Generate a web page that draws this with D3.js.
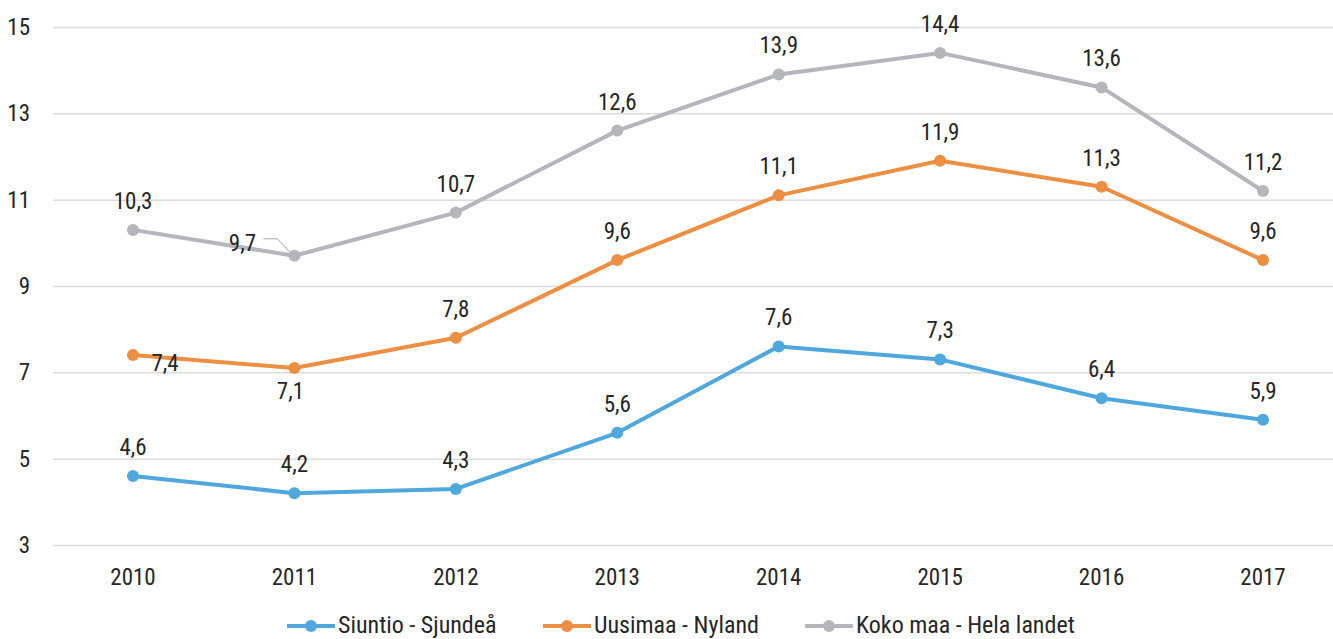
<!DOCTYPE html>
<html>
<head>
<meta charset="utf-8">
<script src="https://cdn.jsdelivr.net/npm/d3@7"></script>
<style>
  body { margin: 0; background: #fff; }
  svg { display: block; font-family: "Liberation Sans Narrow", "Roboto Condensed", "Roboto", sans-serif; }
</style>
</head>
<body>
<svg id="chart" width="1333" height="639"></svg>
<script>
'use strict';

/* chart data */
const years = [2010, 2011, 2012, 2013, 2014, 2015, 2016, 2017];
const siuntio = [4.6, 4.2, 4.3, 5.6, 7.6, 7.3, 6.4, 5.9];
const uusimaa = [7.4, 7.1, 7.8, 9.6, 11.1, 11.9, 11.3, 9.6];
const kokoMaa = [10.3, 9.7, 10.7, 12.6, 13.9, 14.4, 13.6, 11.2];
const yTicks = [3, 5, 7, 9, 11, 13, 15];
const seriesNames = ['Siuntio - Sjundeå', 'Uusimaa - Nyland', 'Koko maa - Hela landet'];

/* where each data label sits relative to its point */
const labelSpots = [
  ['above', 'above', 'above', 'above', 'above', 'above', 'above', 'above'],
  ['right', 'below', 'above', 'above', 'above', 'above', 'above', 'above'],
  ['above', 'leftLeader', 'above', 'above', 'above', 'above', 'above', 'above']
];

const colors = ['#4ea7dd', '#ec8f43', '#b5b6bb'];
const series = [siuntio, uusimaa, kokoMaa];

const svg = d3.select('#chart');
const fmt = v => d3.format('.1f')(v).replace('.', ',');
const textColor = '#262626';

const x = d3.scalePoint().domain(years).range([133, 1263]);
const y = d3.scaleLinear().domain([3, 15]).range([545, 27]);

/* gridlines */
svg.append('g')
  .attr('transform', 'translate(53,0)')
  .call(d3.axisLeft(y).tickValues(yTicks).tickSize(-1290).tickFormat(''))
  .call(g => g.select('.domain').remove())
  .call(g => g.selectAll('line').attr('stroke', '#dcdce2').attr('stroke-width', 1.5));

/* y tick labels */
svg.append('g').selectAll('text')
  .data(yTicks)
  .enter().append('text')
    .attr('x', 30)
    .attr('y', d => y(d) + 8)
    .attr('text-anchor', 'end')
    .attr('font-size', 23)
    .attr('fill', textColor)
    .text(d => d);

/* x tick labels */
svg.append('g').selectAll('text')
  .data(years)
  .enter().append('text')
    .attr('x', d => x(d))
    .attr('y', 585)
    .attr('text-anchor', 'middle')
    .attr('font-size', 23)
    .attr('fill', textColor)
    .text(d => d);

const line = d3.line()
  .x((d, i) => x(years[i]))
  .y(d => y(d));

series.forEach(function(vals, s){
  let g = svg.append('g');
  g.append('path')
    .datum(vals)
    .attr('d', line)
    .attr('fill', 'none')
    .attr('stroke', colors[s])
    .attr('stroke-width', 4)
    .attr('stroke-linejoin', 'round');
  g.selectAll('circle')
    .data(vals)
    .enter().append('circle')
      .attr('cx', (d, i) => x(years[i]))
      .attr('cy', d => y(d))
      .attr('r', 6)
      .attr('fill', colors[s]);
});

/* data labels */
series.forEach(function(vals, s){
  vals.forEach(function(v, i){
    let px = x(years[i]), py = y(v);
    let spot = labelSpots[s][i];
    let tx = px, ty = py - 21;
    if (spot === 'right') { tx = px + 32; ty = py + 16; }
    if (spot === 'below') { tx = px - 4; ty = py + 31; }
    if (spot === 'leftLeader') {
      tx = px - 52; ty = py - 5;
      svg.append('polyline')
        .attr('points', [[px - 31, py - 17], [px - 17, py - 17], [px - 4, py - 3]].join(' '))
        .attr('fill', 'none')
        .attr('stroke', '#a6a6a6')
        .attr('stroke-width', 1);
    }
    svg.append('text')
      .attr('x', tx)
      .attr('y', ty)
      .attr('text-anchor', 'middle')
      .attr('font-size', 23)
      .attr('fill', textColor)
      .text(fmt(v));
  });
});

/* legend */
const legendX = [287, 543, 805];
const legend = svg.append('g').selectAll('g')
  .data(seriesNames)
  .enter().append('g')
    .attr('transform', (d, i) => 'translate(' + legendX[i] + ',626)');
legend.append('line')
  .attr('x1', 0).attr('x2', 48)
  .attr('stroke', (d, i) => colors[i])
  .attr('stroke-width', 4);
legend.append('circle')
  .attr('cx', 24).attr('r', 6)
  .attr('fill', (d, i) => colors[i]);
legend.append('text')
  .attr('x', 51)
  .attr('y', 7)
  .attr('font-size', 24)
  .attr('fill', textColor)
  .text(d => d);
</script>
</body>
</html>
